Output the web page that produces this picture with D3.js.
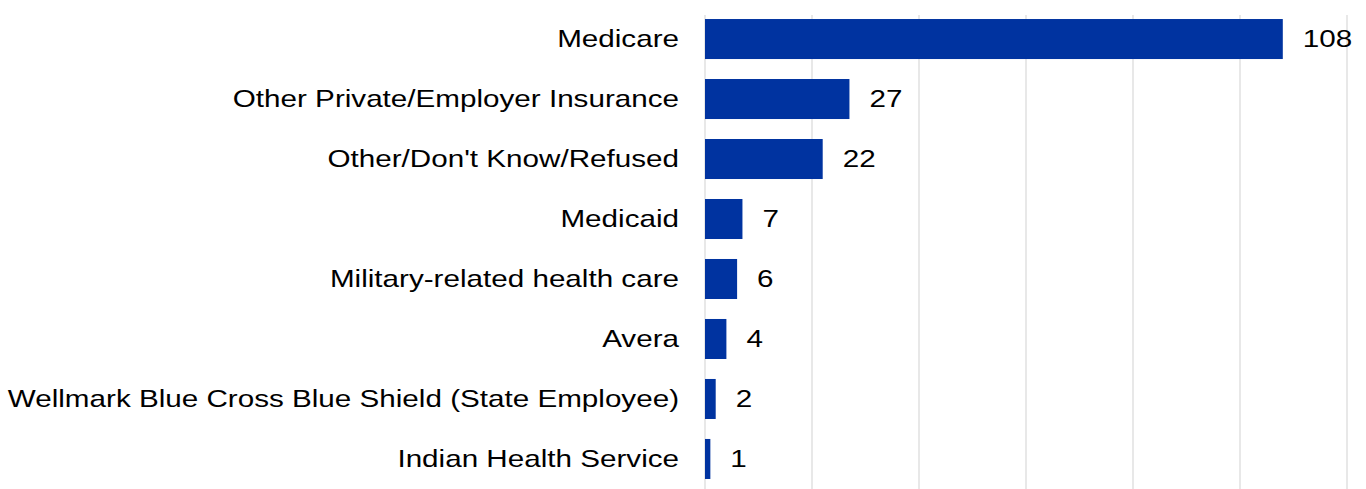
<!DOCTYPE html>
<html><head><meta charset="utf-8">
<script src="https://cdn.jsdelivr.net/npm/d3@7"></script>
<style>body{margin:0;background:#fff}svg{display:block}</style>
</head><body>
<svg id="c" width="1366" height="489"></svg>
<script>
const categories = ["Medicare","Other Private/Employer Insurance","Other/Don't Know/Refused","Medicaid","Military-related health care","Avera","Wellmark Blue Cross Blue Shield (State Employee)","Indian Health Service"];
const values = [108,27,22,7,6,4,2,1];
const tickValues = [0,20,40,60,80,100,120];

const svg = d3.select("#c");
const W = 1366, H = 489;
const x = d3.scaleLinear().domain([0,120]).range([705, 1347]);
const y = d3.scaleBand().domain(categories).range([9, H]).paddingInner(0.333).paddingOuter(0.167);
const sx = 1.235;

svg.append("g").selectAll("line").data(tickValues).join("line")
  .attr("x1", d=>x(d)).attr("x2", d=>x(d)).attr("y1", 15).attr("y2", H)
  .attr("stroke", "#d9d9d9").attr("stroke-width", 1.2);

svg.append("g").selectAll("rect").data(values).join("rect")
  .attr("x", x(0)).attr("y", (d,i)=>y(categories[i]))
  .attr("width", d=>x(d)-x(0)).attr("height", y.bandwidth())
  .attr("fill", "#0033a0");

const font = "'Liberation Sans', Arial, sans-serif";
svg.append("g").selectAll("text").data(categories).join("text")
  .attr("transform", d=>`translate(679,${y(d)+y.bandwidth()/2}) scale(${sx},1)`)
  .attr("dy","0.35em")
  .attr("text-anchor","end").attr("font-family",font).attr("font-size",24)
  .attr("fill","#000").text(d=>d);

svg.append("g").selectAll("text").data(values).join("text")
  .attr("transform", (d,i)=>`translate(${x(d)+20},${y(categories[i])+y.bandwidth()/2}) scale(${sx},1)`)
  .attr("dy","0.35em")
  .attr("font-family",font).attr("font-size",24).attr("fill","#000").text(d=>d);
</script>
</body></html>
